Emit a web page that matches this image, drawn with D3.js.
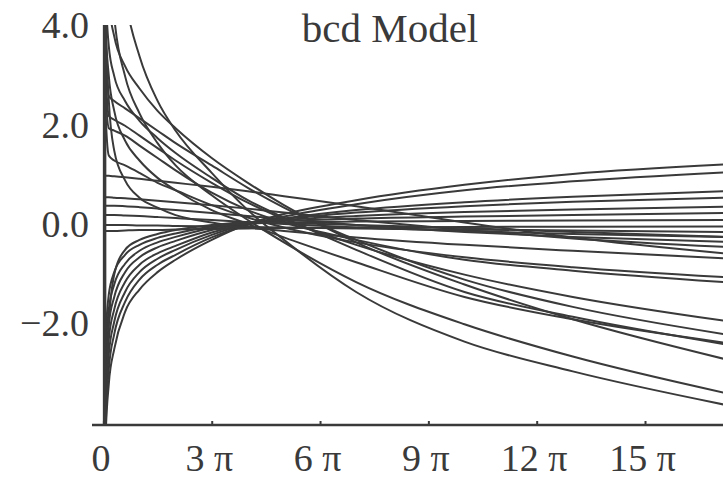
<!DOCTYPE html>
<html><head><meta charset="utf-8">
<script src="https://cdn.jsdelivr.net/npm/d3@7"></script>
<style>body{margin:0;background:#fff}svg{display:block}</style>
</head><body>
<svg id="c" width="723" height="479"></svg>
<script>
// sample abscissae, in units of pi
const tPi = [0, 0.05, 0.15, 0.3, 0.6, 1, 1.5, 2, 3, 4, 5, 7, 10, 13, 17.2];
// curves that start high and end low
const n1  = [9, 9, 8, 6.5, 4.6, 3.4, 2.5, 1.9, 1.05, 0.3, -0.3, -1.35, -2.35, -2.95, -3.62];
const n2  = [9, 8, 6, 4.2, 3.0, 2.25, 1.65, 1.2, 0.6, 0.1, -0.35, -1.15, -2.0, -2.65, -3.38];
const n3  = [9, 6, 4.5, 3.8, 3.2, 2.75, 2.3, 1.95, 1.35, 0.85, 0.4, -0.35, -1.2, -1.9, -2.7];
const n4  = [9, 5, 3.6, 3.0, 2.5, 2.1, 1.75, 1.45, 0.95, 0.5, 0.15, -0.5, -1.35, -1.85, -2.4];
const n5  = [8, 4.2, 3.0, 2.3, 1.7, 1.3, 0.95, 0.7, 0.3, 0.02, -0.25, -0.75, -1.45, -1.9, -2.37];
const n6  = [9, 4, 2.6, 2.5, 2.35, 2.15, 1.9, 1.65, 1.2, 0.75, 0.35, -0.3, -1.1, -1.65, -2.2];
const n7  = [9, 3.5, 2.2, 2.12, 2.0, 1.8, 1.55, 1.3, 0.85, 0.45, 0.12, -0.4, -1.0, -1.45, -1.93];
const n8  = [8, 3, 1.95, 1.9, 1.8, 1.6, 1.35, 1.1, 0.65, 0.3, 0.05, -0.3, -0.7, -0.92, -1.15];
const n9  = [7, 2.5, 1.4, 1.3, 1.2, 1.05, 0.85, 0.7, 0.4, 0.15, -0.05, -0.35, -0.65, -0.85, -1.05];
const n10 = [9, 4.5, 2.5, 1.5, 0.9, 0.55, 0.35, 0.2, 0.05, -0.05, -0.12, -0.25, -0.4, -0.52, -0.67];
const n11 = [0.99, 0.99, 0.99, 0.98, 0.96, 0.93, 0.89, 0.85, 0.77, 0.68, 0.58, 0.38, 0.05, -0.25, -0.57];
const n12 = [0.56, 0.56, 0.56, 0.55, 0.54, 0.52, 0.49, 0.46, 0.4, 0.33, 0.25, 0.1, -0.1, -0.27, -0.44];
const n13 = [0.39, 0.39, 0.39, 0.39, 0.38, 0.36, 0.33, 0.3, 0.24, 0.18, 0.12, 0.0, -0.14, -0.24, -0.34];
const n14 = [0.2, 0.2, 0.2, 0.2, 0.19, 0.18, 0.16, 0.14, 0.1, 0.06, 0.02, -0.05, -0.12, -0.18, -0.24];
const n15 = [0, 0, 0, 0, 0, -0.01, -0.01, -0.02, -0.03, -0.04, -0.05, -0.07, -0.09, -0.11, -0.14];
const n16 = [-0.12, -0.12, -0.12, -0.12, -0.11, -0.1, -0.1, -0.09, -0.08, -0.07, -0.06, -0.05, -0.04, -0.035, -0.03];
// curves that start low and end high
const p1 = [-9, -4.5, -3.2, -2.5, -1.75, -1.3, -0.95, -0.7, -0.3, 0.02, 0.22, 0.5, 0.81, 1.03, 1.22];
const p2 = [-9, -4.2, -2.9, -2.2, -1.55, -1.1, -0.8, -0.6, -0.25, 0.0, 0.17, 0.42, 0.7, 0.88, 1.06];
const p3 = [-8, -3.8, -2.6, -1.95, -1.35, -0.95, -0.68, -0.5, -0.2, 0.02, 0.13, 0.3, 0.46, 0.57, 0.68];
const p4 = [-8, -3.5, -2.3, -1.7, -1.15, -0.8, -0.57, -0.42, -0.15, 0.03, 0.12, 0.25, 0.38, 0.47, 0.55];
const p5 = [-7, -3.1, -2.0, -1.45, -0.95, -0.65, -0.45, -0.32, -0.1, 0.03, 0.1, 0.18, 0.26, 0.31, 0.37];
const p6 = [-6, -2.8, -1.7, -1.2, -0.78, -0.52, -0.35, -0.24, -0.06, 0.04, 0.08, 0.13, 0.17, 0.2, 0.24];
const p7 = [-5, -2.5, -1.4, -0.95, -0.6, -0.4, -0.26, -0.17, -0.03, 0.03, 0.05, 0.07, 0.08, 0.09, 0.1];
const p8 = [-9, -5, -2.0, -1.0, -0.5, -0.3, -0.18, -0.1, 0.0, 0.05, 0.04, 0.0, -0.06, -0.14, -0.24];
const seriesList = [n1,n2,n3,n4,n5,n6,n7,n8,n9,n10,n11,n12,n13,n14,n15,n16,p1,p2,p3,p4,p5,p6,p7,p8];

const xTicks = [0, 3, 6, 9, 12, 15];
const xTickLabels = ["0", "3 \u03c0", "6 \u03c0", "9 \u03c0", "12 \u03c0", "15 \u03c0"];
const yTicks = [4, 2, 0, -2];
const yTickLabels = ["4.0", "2.0", "0.0", "\u22122.0"];
const title = "bcd Model";

const ink = "#3a3a3a";
const serif = "'Liberation Serif','Times New Roman',serif";
const svg = d3.select("#c");
const x = d3.scaleLinear().domain([0, 17.16 * Math.PI]).range([103.4, 723]);
const y = d3.scaleLinear().domain([-4.03, 4.03]).range([425, 25]);

svg.append("defs").append("clipPath").attr("id", "clip")
  .append("rect").attr("x", x(0) - 2).attr("y", y(4.03)).attr("width", 723 - x(0) + 2).attr("height", y(-4.03) - y(4.03));

const line = d3.line()
  .x((d, i) => x(tPi[i] * Math.PI))
  .y(d => y(d))
  .curve(d3.curveMonotoneX);

const plot = svg.append("g").attr("clip-path", "url(#clip)");
plot.selectAll("path").data(seriesList).join("path")
  .attr("d", line)
  .attr("fill", "none").attr("stroke", ink).attr("stroke-width", 2);
// vertical line at x = 0 where the curves pile up
plot.append("line")
  .attr("x1", x(0) + 1.2).attr("x2", x(0) + 1.2)
  .attr("y1", y(4.03)).attr("y2", y(-4.03))
  .attr("stroke", ink).attr("stroke-width", 3.5);

// x axis
const xAxis = d3.axisBottom(x)
  .tickValues(xTicks.map(v => v * Math.PI))
  .tickFormat((d, i) => xTickLabels[i])
  .tickSizeInner(-4).tickSizeOuter(0);
const gx = svg.append("g").attr("transform", "translate(0,425)").call(xAxis);
gx.select(".domain").remove();
gx.append("line").attr("x1", 92).attr("x2", 723).attr("y1", 0).attr("y2", 0)
  .attr("stroke", ink).attr("stroke-width", 2.5);
gx.selectAll(".tick line").attr("stroke", ink).attr("stroke-width", 2);
gx.selectAll(".tick text").attr("fill", ink)
  .attr("font-family", serif)
  .attr("font-size", 38).attr("y", 46).attr("dy", 0).attr("dx", -3);

// y labels (no axis line)
svg.append("g").selectAll("text").data(yTicks).join("text")
  .attr("x", 89).attr("y", d => y(d) + 12)
  .attr("text-anchor", "end")
  .attr("font-family", serif)
  .attr("font-size", 38).attr("fill", ink)
  .text((d, i) => yTickLabels[i]);

svg.append("text").attr("x", 390).attr("y", 42).attr("text-anchor", "middle")
  .attr("font-family", serif)
  .attr("font-size", 41).attr("fill", ink).text(title);
</script>
</body></html>
